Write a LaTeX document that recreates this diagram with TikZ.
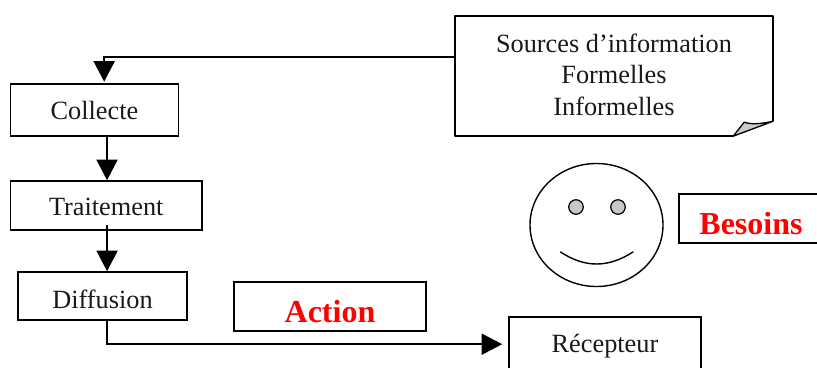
\documentclass[tikz,border=0pt]{standalone}
\usepackage{fontspec}
\setmainfont{Liberation Serif}
\usetikzlibrary{calc,arrows.meta,positioning,shapes.geometric}
\tikzset{
  x=1pt,y=-1pt,
  box/.style={draw=black,line width=1.6pt,inner sep=0pt,align=center,font=\fontsize{26.3}{31}\selectfont,text=black!90},
  redbox/.style={box,font=\fontsize{32}{34}\selectfont\bfseries,text=red,line width=1.8pt},
  baseoff/.style={text height=#1,text depth=0pt},
  conn/.style={draw=black,line width=1.7pt,-{Triangle[length=20.5pt,width=21pt]}},
  face/.style={draw=black,line width=1.4pt},
  eye/.style={draw=black,line width=1.2pt,fill=black!22}
}
\newcommand{\boxat}[7][box]{\node[#1,minimum width=#5pt-#3pt,minimum height=#6pt-#4pt] (#2) at ({(#3+#5)/2},{(#4+#6)/2}) {#7};}
\begin{document}
\begin{tikzpicture}
\useasboundingbox (0,0) rectangle (817,367);
\begin{scope}
\clip (0,0) rectangle (817,367);
% source note
\node[inner sep=0pt,minimum width=318pt,minimum height=120pt,align=center,font=\fontsize{26.3}{31}\selectfont,text=black!90] (src) at (614,76) {\begin{tabular}{@{}c@{}}\rule{0pt}{25pt}Sources d’information\\[0.2pt]Formelles\\[0.2pt]Informelles\end{tabular}};
\coordinate (foldB) at ($(src.south east)+(-40,0)$);
\coordinate (foldR) at ($(src.south east)+(0,-15)$);
\draw[line width=1.6pt,line join=round] (foldB) -- (src.south west) -- (src.north west) -- (src.north east) -- (foldR);
\draw[line width=1.3pt,fill=black!20,line join=round] (foldB) -- ($(foldB)+(11,-14)$) .. controls ($(foldB)+(20,-11)$) and ($(foldB)+(30,-13)$) .. (foldR) -- cycle;
% boxes
\boxat[box,baseoff=18pt]{col}{10.5}{84}{178.5}{136}{Collecte}
\boxat[box,baseoff=19pt]{tra}{10.5}{181}{202}{230}{Traitement}
\boxat[box,baseoff=24pt]{dif}{18}{272}{187}{320}{Diffusion}
\boxat[redbox,baseoff=31pt]{act}{234}{282}{426}{331}{Action}
\boxat[redbox,baseoff=32pt]{bes}{679}{194}{830}{243}{\hspace*{-7pt}Besoins}
\boxat[box,baseoff=7pt]{rec}{509}{317}{701}{380}{Récepteur}
% connectors
\coordinate (srcport) at ($(src.north west)!0.342!(src.south west)$);
\coordinate (colin) at ($(col.north west)!0.557!(col.north east)+(0,-1.5)$);
\coordinate (colout) at ($(col.south west)!0.574!(col.south east)$);
\coordinate (train) at (colout |- tra.north);
\coordinate (traout) at (colout |- tra.south);
\coordinate (difin) at (colout |- dif.north);
\coordinate (difout) at (colout |- dif.south);
\coordinate (recin) at ($(rec.north west)+(-6,28)$);
\draw[conn] (srcport) -| (colin);
\draw[conn] ($(colout)+(0,-2)$) -- (train);
\draw[conn] ($(traout)+(0,-6)$) -- (difin);
\draw[conn] ($(difout)+(0,-2)$) |- (recin);
% smiley
\node[face,ellipse,minimum width=133pt,minimum height=123pt,inner sep=0pt] (head) at (596.5,225) {};
\node[eye,circle,minimum size=14.5pt,inner sep=0pt] (eyeL) at (576,207) {};
\node[eye,circle,minimum size=14.5pt,inner sep=0pt] (eyeR) at (618,207) {};
\draw[face,line cap=round] (560.5,252) .. controls (585,268) and (608,268) .. (633,252);
\end{scope}
\end{tikzpicture}
\end{document}
